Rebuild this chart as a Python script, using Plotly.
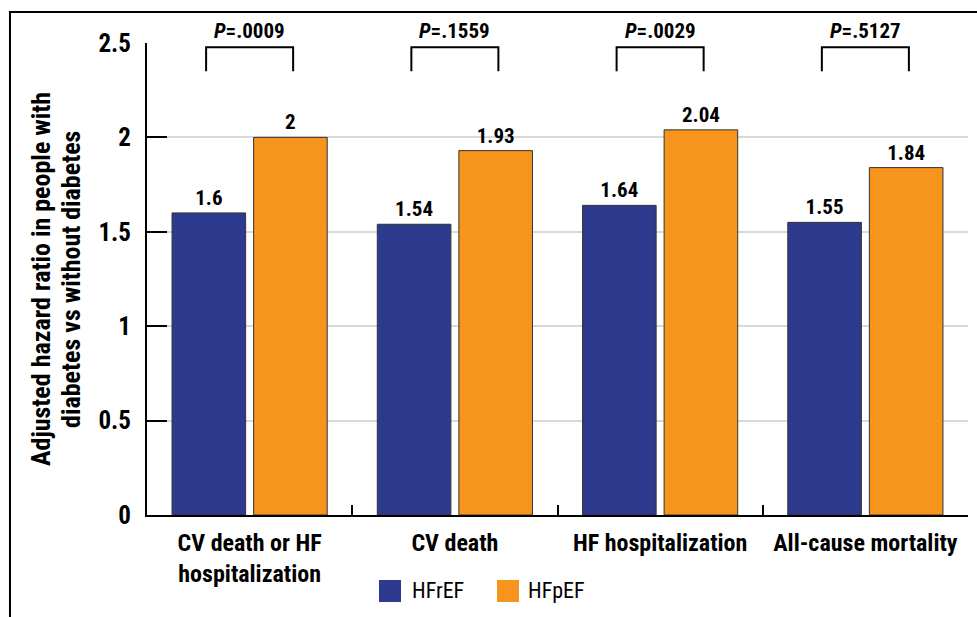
import plotly.graph_objects as go

categories = ["CV death or HF<br>hospitalization", "CV death", "HF hospitalization", "All-cause mortality"]
series_names = ["HFrEF", "HFpEF"]
hfref = [1.6, 1.54, 1.64, 1.55]
hfpef = [2, 1.93, 2.04, 1.84]
p_values = [".0009", ".1559", ".0029", ".5127"]
y_ticks = [0, 0.5, 1, 1.5, 2, 2.5]
y_title_lines = ["Adjusted hazard ratio in people with", "diabetes vs without diabetes"]

NAVY = "#2E3A8E"
ORANGE = "#F7941E"
FONT = "Roboto Condensed, Liberation Sans Narrow, sans-serif"

fig = go.Figure()
for name, vals, col in [(series_names[0], hfref, NAVY), (series_names[1], hfpef, ORANGE)]:
    fig.add_trace(go.Bar(
        x=categories, y=vals, name=name,
        marker=dict(color=col, line=dict(color="#333333", width=1)),
        texttemplate="%{y}", textposition="outside",
        textfont=dict(family=FONT, size=21, color="black", weight="bold"),
        cliponaxis=False, showlegend=False,
    ))

bargap = 0.205
off = 0.212
shapes = []
annotations = []
for i, p in enumerate(p_values):
    shapes.append(dict(type="path", xref="x", yref="y",
                       path=f"M {i-off},2.35 L {i-off},2.478 L {i+off},2.478 L {i+off},2.35",
                       line=dict(color="black", width=2)))
    annotations.append(dict(x=i, y=2.561 / 2.5, xref="x", yref="paper", text=f"<i>P</i>={p}",
                            showarrow=False, yanchor="middle",
                            font=dict(family=FONT, size=21, color="black", weight="bold")))

# y-axis title, two lines
for line, xp in zip(y_title_lines, [-0.1291, -0.0926]):
    annotations.append(dict(x=xp, y=0.5, xref="paper", yref="paper", text=line,
                            textangle=-90, showarrow=False, xanchor="center", yanchor="middle",
                            font=dict(family=FONT, size=26, color="black", weight="bold")))

# frame (top and left)
shapes.append(dict(type="path", xref="paper", yref="paper",
                   path="M -0.1669,-0.25 L -0.1669,1.0657 L 1.02,1.0657",
                   line=dict(color="black", width=2)))

# legend
legend_items = [(series_names[0], NAVY, 0.2826, 0.3203), (series_names[1], ORANGE, 0.4263, 0.4616)]
for name, col, x0, tx in legend_items:
    shapes.append(dict(type="rect", xref="paper", yref="paper",
                       x0=x0, x1=x0 + 0.0268, y0=-0.1843, y1=-0.1377,
                       fillcolor=col, line=dict(width=0)))
    annotations.append(dict(x=tx, y=-0.161, xref="paper", yref="paper", text=name,
                            showarrow=False, xanchor="left", yanchor="middle",
                            font=dict(family=FONT, size=22, color="black")))

fig.update_layout(
    width=977, height=617,
    margin=dict(l=147, r=9, t=43, b=102),
    paper_bgcolor="white", plot_bgcolor="white",
    barmode="group", bargap=bargap, bargroupgap=0.098,
    shapes=shapes, annotations=annotations,
    font=dict(family=FONT, color="black"),
)
fig.update_xaxes(
    type="category", categoryorder="array", categoryarray=categories,
    automargin=False, tickangle=0, ticklabelstandoff=5,
    showline=True, linecolor="black", linewidth=2,
    ticks="inside", ticklen=10, tickwidth=1.5, tickcolor="black",
    tickson="boundaries", showgrid=False,
    tickfont=dict(family=FONT, size=24, color="black", weight="bold"),
)
fig.update_yaxes(
    range=[0, 2.5], tickvals=y_ticks, automargin=False, ticklabelstandoff=9,
    showline=True, linecolor="black", linewidth=2,
    ticks="inside", ticklen=20, tickwidth=2, tickcolor="black",
    showgrid=True, gridcolor="#D9D9D9", gridwidth=2,
    zeroline=False,
    tickfont=dict(family=FONT, size=25, color="black", weight="bold"),
)

fig.write_html("out.html", config={"displayModeBar": False},
               post_script="document.body.style.margin='0';")
